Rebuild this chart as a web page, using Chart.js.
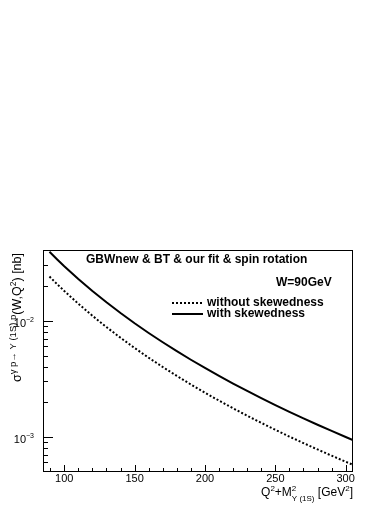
<!DOCTYPE html>
<html>
<head>
<meta charset="utf-8">
<script src="https://cdn.jsdelivr.net/npm/chart.js@4.4.0/dist/chart.umd.min.js"></script>
<style>
    html, body { margin: 0; padding: 0; background: #fff; }
</style>
</head>
<body>
<canvas id="myChart" width="390" height="505"></canvas>
<script>
// Q^2 + M^2 values [GeV^2]
var q2m2 = [89.5, 95, 100, 110, 120, 130, 140, 150, 160, 170, 180, 190, 200,
            210, 220, 230, 240, 250, 260, 270, 280, 290, 300, 305.5];
// sigma [nb], with skewedness (solid)
var withSkew = [0.03925, 0.03370, 0.02949, 0.02289, 0.01804, 0.01440, 0.01164, 0.009506,
                0.007836, 0.006516, 0.005462, 0.004608, 0.003913, 0.003343, 0.002871,
                0.002478, 0.002150, 0.001873, 0.001638, 0.001438, 0.001268, 0.001121,
                0.000994, 0.000932];
// sigma [nb], without skewedness (dotted)
var withoutSkew = [0.02402, 0.02062, 0.01805, 0.01401, 0.01104, 0.008813, 0.007124, 0.005818,
                   0.004796, 0.003988, 0.003343, 0.002820, 0.002395, 0.002046, 0.001757,
                   0.001517, 0.001316, 0.001146, 0.001002, 0.000880, 0.000776, 0.000686,
                   0.000608, 0.000570];

var xMajorTicks = [100, 150, 200, 250, 300];
var xTickLabels = ['100', '150', '200', '250', '300'];
var xMinorTicks = [90, 110, 120, 130, 140, 160, 170, 180, 190, 210, 220, 230, 240,
                   260, 270, 280, 290];
var yMajorTicks = [0.01, 0.001];
var yTickExps = ['\u22122', '\u22123'];
var yMinorTicks = [0.0006, 0.0007, 0.0008, 0.0009, 0.002, 0.003, 0.004, 0.005,
                   0.006, 0.007, 0.008, 0.009, 0.02, 0.03];

var seriesNames = ['without skewedness', 'with skewedness'];

function toPoints(xs, ys) {
    var pts = [];
    for (var i = 0; i < xs.length; i++) pts.push({ x: xs[i], y: ys[i] });
    return pts;
}

var FONT = '"Liberation Sans", Arial, Helvetica, sans-serif';

// draw text made of pieces (normal / super / sub), returns width
function richText(ctx, segs, x, y, doDraw) {
    var cx = x;
    for (var i = 0; i < segs.length; i++) {
        var s = segs[i];
        ctx.font = (s.bold ? 'bold ' : '') + s.size + 'px ' + FONT;
        var w = ctx.measureText(s.t).width;
        if (doDraw) ctx.fillText(s.t, cx, y + (s.dy || 0));
        if (s.stack) {
            s._w = w;
        } else {
            var prev = segs[i - 1];
            if (prev && prev.stack) w = Math.max(w, prev._w);
            cx += w;
        }
    }
    return cx - x;
}

var rootStyle = {
    id: 'rootStyle',
    afterDatasetsDraw: function (chart) {
        var ctx = chart.ctx, a = chart.chartArea;
        var xs = chart.scales.x, ys = chart.scales.y;
        ctx.save();
        ctx.strokeStyle = '#000';
        ctx.fillStyle = '#000';
        ctx.lineWidth = 1;
        ctx.setLineDash([]);

        // frame
        ctx.strokeRect(a.left + 0.5, a.top + 0.5, a.right - a.left - 1, a.bottom - a.top);

        // x ticks (inward)
        ctx.beginPath();
        xMajorTicks.forEach(function (v) {
            var px = Math.round(xs.getPixelForValue(v)) + 0.5;
            ctx.moveTo(px, a.bottom); ctx.lineTo(px, a.bottom - 6);
        });
        xMinorTicks.forEach(function (v) {
            var px = Math.round(xs.getPixelForValue(v)) + 0.5;
            ctx.moveTo(px, a.bottom); ctx.lineTo(px, a.bottom - 3);
        });
        // y ticks (inward)
        yMajorTicks.forEach(function (v) {
            var py = Math.round(ys.getPixelForValue(v)) + 0.5;
            ctx.moveTo(a.left, py); ctx.lineTo(a.left + 10, py);
        });
        yMinorTicks.forEach(function (v) {
            var py = Math.round(ys.getPixelForValue(v)) + 0.5;
            if (py < a.top + 2 || py > a.bottom - 1) return;
            ctx.moveTo(a.left, py); ctx.lineTo(a.left + 5, py);
        });
        ctx.stroke();

        // x tick labels
        ctx.font = '11px ' + FONT;
        ctx.textAlign = 'center';
        ctx.textBaseline = 'alphabetic';
        xMajorTicks.forEach(function (v, i) {
            ctx.fillText(xTickLabels[i], xs.getPixelForValue(v), 482);
        });

        // y tick labels 10^n
        ctx.textAlign = 'left';
        yMajorTicks.forEach(function (v, i) {
            var py = ys.getPixelForValue(v);
            var segs = [{ t: '10', size: 11 }, { t: yTickExps[i], size: 7, dy: -5 }];
            var w = richText(ctx, segs, 0, 0, false);
            richText(ctx, segs, a.left - 9 - w, py + 6, true);
        });

        // x axis title
        var xt = [
            { t: 'Q', size: 12 }, { t: '2', size: 8, dy: -5 }, { t: '+M', size: 12 },
            { t: '2', size: 8, dy: -5, stack: true }, { t: '\u03A5 (1S)', size: 8, dy: 5 },
            { t: ' [GeV', size: 12 }, { t: '2', size: 8, dy: -5 }, { t: ']', size: 12 }
        ];
        var xw = richText(ctx, xt, 0, 0, false);
        richText(ctx, xt, a.right - xw, 496, true);

        // y axis title (rotated)
        var yt = [
            { t: '\u03C3', size: 12.5 }, { t: '\u03B3 p\u2192 \u03A5 (1S) p', size: 9.5, dy: -5 },
            { t: '(W,Q', size: 12.5 }, { t: '2', size: 8.5, dy: -5 }, { t: ') [nb]', size: 12.5 }
        ];
        var yw = richText(ctx, yt, 0, 0, false);
        ctx.save();
        ctx.translate(21, a.top + 3);
        ctx.rotate(-Math.PI / 2);
        richText(ctx, yt, -yw, 0, true);
        ctx.restore();

        // header texts
        ctx.font = 'bold 12px ' + FONT;
        ctx.textAlign = 'left';
        ctx.textBaseline = 'middle';
        ctx.fillText('GBWnew & BT & our fit & spin rotation', 86, 260);
        ctx.fillText('W=90GeV', 276, 283);

        // legend
        var ds = chart.data.datasets;
        var legY = [303, 314];
        for (var i = 0; i < ds.length; i++) {
            ctx.save();
            ctx.strokeStyle = ds[i].borderColor;
            ctx.lineWidth = ds[i].borderWidth;
            ctx.setLineDash(ds[i].borderDash || []);
            ctx.beginPath();
            ctx.moveTo(172, legY[i]); ctx.lineTo(203, legY[i]);
            ctx.stroke();
            ctx.restore();
            ctx.fillText(ds[i].label, 207, legY[i]);
        }
        ctx.restore();
    }
};

var ctx = document.getElementById('myChart').getContext('2d');
var myChart = new Chart(ctx, {
    type: 'line',
    data: {
        datasets: [{
            label: seriesNames[0],
            data: toPoints(q2m2, withoutSkew),
            borderColor: '#000',
            borderWidth: 2,
            borderDash: [2, 2],
            pointRadius: 0,
            fill: false
        }, {
            label: seriesNames[1],
            data: toPoints(q2m2, withSkew),
            borderColor: '#000',
            borderWidth: 2,
            pointRadius: 0,
            fill: false
        }]
    },
    options: {
        responsive: false,
        animation: false,
        layout: { padding: { left: 43, right: 37, top: 250, bottom: 34 } },
        plugins: { legend: { display: false }, tooltip: { enabled: false } },
        scales: {
            x: { type: 'linear', min: 84.9, max: 305.2, display: false },
            y: { type: 'logarithmic', min: 0.000506, max: 0.0407, display: false }
        }
    },
    plugins: [rootStyle]
});
</script>
</body>
</html>
